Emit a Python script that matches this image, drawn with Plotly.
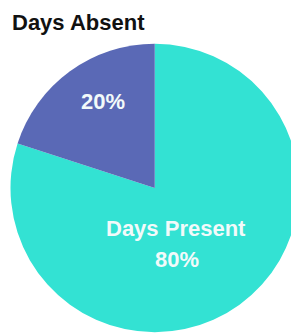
import plotly.graph_objects as go

labels = ["Days Present", "Days Absent"]
values = [80, 20]
colors = ["#33E2D3", "#5A69B6"]
title_text = "Days Absent"

# the page body has an 8px margin; the figure is sized to fill the rest
OFF = 8
W, H = 299 - OFF, 333 - OFF

def px(x, y):
    return (x - OFF) / W, 1 - (y - OFF) / H

fig = go.Figure(go.Pie(
    labels=labels,
    values=values,
    sort=False,
    direction="clockwise",
    rotation=0,
    marker=dict(colors=colors, line=dict(width=0)),
    textinfo="none",
    hoverinfo="label+percent",
    showlegend=False,
    domain=dict(x=[(10.5 - OFF) / W, 1.0], y=[0.5 / H, (332.5 - 43.5 + 0.5) / H]),
))

font_fam = "Liberation Sans, Arial, sans-serif"
label_color = "#F2FAFA"
FS = 22

ann = []
x, y = px(10, 22)
ann.append(dict(text="<b>%s</b>" % title_text, x=x, y=y, xref="paper", yref="paper",
                xanchor="left", yanchor="middle", showarrow=False,
                font=dict(family=font_fam, size=FS, color="#111111")))
x, y = px(103, 101)
ann.append(dict(text="<b>%d%%</b>" % values[1], x=x, y=y, xref="paper", yref="paper",
                xanchor="center", yanchor="middle", showarrow=False,
                font=dict(family=font_fam, size=FS, color=label_color)))
x, y = px(176, 228)
ann.append(dict(text="<b>%s</b>" % labels[0], x=x, y=y, xref="paper", yref="paper",
                xanchor="center", yanchor="middle", showarrow=False,
                font=dict(family=font_fam, size=FS, color=label_color)))
x, y = px(177, 259)
ann.append(dict(text="<b>%d%%</b>" % values[0], x=x, y=y, xref="paper", yref="paper",
                xanchor="center", yanchor="middle", showarrow=False,
                font=dict(family=font_fam, size=FS, color=label_color)))

fig.update_layout(
    width=W, height=H,
    margin=dict(l=0, r=0, t=0, b=0),
    paper_bgcolor="white",
    plot_bgcolor="white",
    annotations=ann,
)

fig.write_html("out.html")
